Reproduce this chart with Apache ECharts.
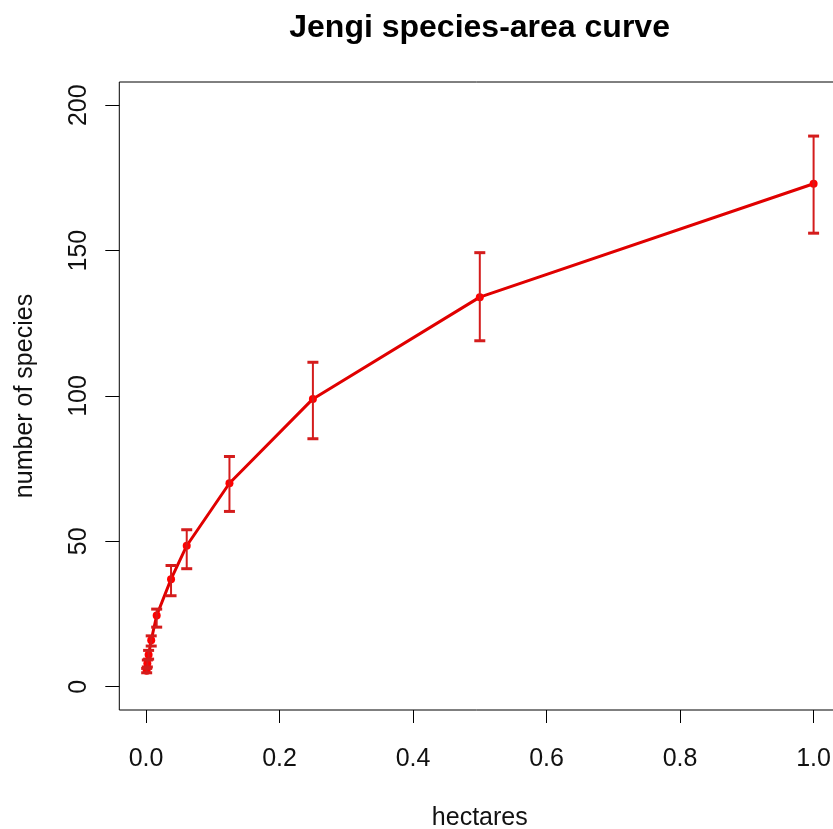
<!DOCTYPE html>
<html><head><meta charset="utf-8">
<script src="https://cdn.jsdelivr.net/npm/echarts@6/dist/echarts.min.js"></script>
<style>html,body{margin:0;padding:0;background:#fff}#c{width:833px;height:829px}</style>
</head><body><div id="c"></div>
<script>
const hectares = [1, 0.5, 0.25, 0.125, 0.061, 0.0375, 0.016, 0.0078, 0.0039, 0.002, 0.001];
const species  = [173, 134, 99, 70, 48.5, 37, 24.5, 16, 11, 8, 5.5];
const lower    = [156, 119, 85.3, 60.3, 40.6, 31.3, 20.5, 14, 9.5, 6.8, 4.8];
const upper    = [189.4, 149.3, 111.6, 79.2, 54, 41.7, 26.7, 17.5, 12.5, 9.2, 6.3];
const xTicks = [0, 0.2, 0.4, 0.6, 0.8, 1.0];
const yTicks = [0, 50, 100, 150, 200];
const titleText = 'Jengi species-area curve';
const xName = 'hectares';
const yName = 'number of species';

const FONT = "'Liberation Sans', Arial, sans-serif";
const cv = document.createElement('canvas').getContext('2d');
cv.font = "bold 32px 'Liberation Sans', Arial, sans-serif";
const titleW = cv.measureText(titleText).width;

const chart = echarts.init(document.getElementById('c'), null, {renderer: 'canvas'});
const barColor = '#d41c1c';
chart.setOption({
  animation: false,
  backgroundColor: '#fff',
  title: {
    text: titleText,
    left: 479.6 - titleW / 2,
    top: 12,
    padding: 0,
    textStyle: {fontFamily: FONT, fontSize: 32, fontWeight: 'bold', color: '#000'}
  },
  grid: {
    left: 119.3, top: 82, width: 721, height: 628,
    outerBoundsMode: 'none', containLabel: false,
    show: true, borderColor: '#000', borderWidth: 1, backgroundColor: 'transparent'
  },
  xAxis: {
    type: 'value', min: -0.04, max: 1.04,
    name: xName, nameLocation: 'middle', nameGap: 96,
    nameTextStyle: {fontFamily: FONT, fontSize: 25, color: '#111'},
    axisLine: {show: false, onZero: false},
    splitLine: {show: false},
    axisTick: {show: true, inside: false, length: 13, lineStyle: {color: '#000', width: 1}, customValues: xTicks},
    axisLabel: {fontFamily: FONT, fontSize: 25, color: '#111', margin: 37, customValues: xTicks,
      formatter: v => v.toFixed(1)}
  },
  yAxis: {
    type: 'value', min: -8, max: 208,
    name: yName, nameLocation: 'middle', nameGap: 82, nameRotate: 90,
    nameTextStyle: {fontFamily: FONT, fontSize: 25, color: '#111'},
    axisLine: {show: false, onZero: false},
    splitLine: {show: false},
    axisTick: {show: true, inside: false, length: 14, lineStyle: {color: '#000', width: 1}, customValues: yTicks},
    axisLabel: {fontFamily: FONT, fontSize: 25, color: '#111', margin: 28, rotate: 90, customValues: yTicks}
  },
  series: [
    {
      type: 'line',
      data: hectares.map((h, i) => [h, species[i]]),
      symbol: 'circle', symbolSize: 8,
      lineStyle: {color: '#e00000', width: 3},
      itemStyle: {color: '#ff0000'},
      z: 2
    },
    {
      type: 'custom',
      data: hectares.map((h, i) => [h, lower[i], upper[i]]),
      renderItem: function (params, api) {
        const x = api.value(0);
        const pLo = api.coord([x, api.value(1)]);
        const pHi = api.coord([x, api.value(2)]);
        const hw = 5.5;
        const st = {stroke: barColor, lineWidth: 2};
        return {type: 'group', children: [
          {type: 'line', shape: {x1: pLo[0], y1: pLo[1], x2: pHi[0], y2: pHi[1]}, style: st},
          {type: 'line', shape: {x1: pLo[0] - hw, y1: pLo[1], x2: pLo[0] + hw, y2: pLo[1]}, style: {stroke: barColor, lineWidth: 3}},
          {type: 'line', shape: {x1: pHi[0] - hw, y1: pHi[1], x2: pHi[0] + hw, y2: pHi[1]}, style: {stroke: barColor, lineWidth: 3}}
        ]};
      },
      z: 3
    }
  ]
});
</script>
</body></html>
